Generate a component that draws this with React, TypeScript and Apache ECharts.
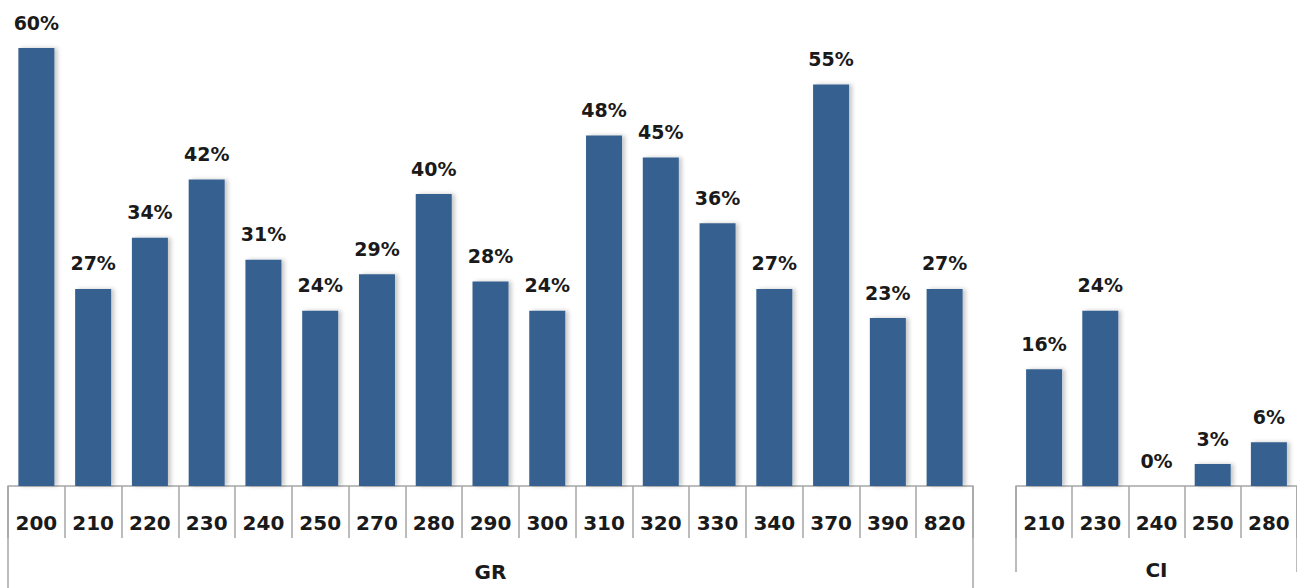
import React, { useEffect, useRef } from "react";
import * as echarts from "echarts";

const grCategories = ["200", "210", "220", "230", "240", "250", "270", "280", "290", "300", "310", "320", "330", "340", "370", "390", "820"];
const grValues = [60, 27, 34, 42, 31, 24, 29, 40, 28, 24, 48, 45, 36, 27, 55, 23, 27];
const ciCategories = ["210", "230", "240", "250", "280"];
const ciValues = [16, 24, 0, 3, 6];
const groupNames = ["GR", "CI"];

const BAR_COLOR = "#36608F";
const AXIS_COLOR = "#A6A6A6";
const FONT = "DejaVu Sans";

export default function App() {
  const ref = useRef<HTMLDivElement>(null);
  useEffect(() => {
    if (!ref.current) return;
    const chart = echarts.init(ref.current, null, { renderer: "svg" });
    const labelStyle = {
      show: true,
      position: "top" as const,
      distance: 16,
      formatter: "{c}%",
      fontFamily: FONT,
      fontWeight: "bold" as const,
      fontSize: 19,
      color: "#1A1A1A",
    };
    const barItem = {
      color: BAR_COLOR,
      shadowColor: "rgba(0,0,0,0.22)",
      shadowBlur: 4,
      shadowOffsetX: 3,
      shadowOffsetY: 0,
    };
    const catAxis = (gridIndex: number, data: string[]) => ({
      type: "category" as const,
      gridIndex,
      data,
      position: "bottom" as const,
      axisLine: { show: true, lineStyle: { color: AXIS_COLOR, width: 1.5 } },
      axisTick: { show: true, length: 52, lineStyle: { color: AXIS_COLOR, width: 1.5 } },
      axisLabel: {
        margin: 27,
        fontFamily: FONT,
        fontWeight: "bold" as const,
        fontSize: 20,
        color: "#1A1A1A",
      },
    });
    const groupAxis = (gridIndex: number, name: string, tickLen: number, margin: number) => ({
      type: "category" as const,
      gridIndex,
      data: [name],
      position: "bottom" as const,
      axisLine: { show: false },
      axisTick: { show: true, length: tickLen, lineStyle: { color: AXIS_COLOR, width: 1.5 } },
      axisLabel: {
        margin,
        fontFamily: FONT,
        fontWeight: "bold" as const,
        fontSize: 20,
        color: "#1A1A1A",
      },
    });
    chart.setOption({
      animation: false,
      grid: [
        { left: 8, width: 965, top: 48, bottom: 102 },
        { left: 1016, width: 285, top: 48, bottom: 102 },
      ],
      xAxis: [
        catAxis(0, grCategories),
        catAxis(1, ciCategories),
        groupAxis(0, groupNames[0], 102, 76),
        groupAxis(1, groupNames[1], 86, 74),
      ],
      yAxis: [
        { type: "value", gridIndex: 0, min: 0, max: 60, show: false },
        { type: "value", gridIndex: 1, min: 0, max: 60, show: false },
      ],
      series: [
        {
          type: "bar",
          xAxisIndex: 0,
          yAxisIndex: 0,
          data: grValues,
          barWidth: 36,
          itemStyle: barItem,
          label: labelStyle,
        },
        {
          type: "bar",
          xAxisIndex: 1,
          yAxisIndex: 1,
          data: ciValues,
          barWidth: 36,
          itemStyle: barItem,
          label: labelStyle,
        },
      ],
    });
    return () => chart.dispose();
  }, []);
  return (
    <div
      ref={ref}
      style={{ position: "absolute", left: 0, top: 0, width: 1297, height: 588, background: "#fff" }}
    />
  );
}
